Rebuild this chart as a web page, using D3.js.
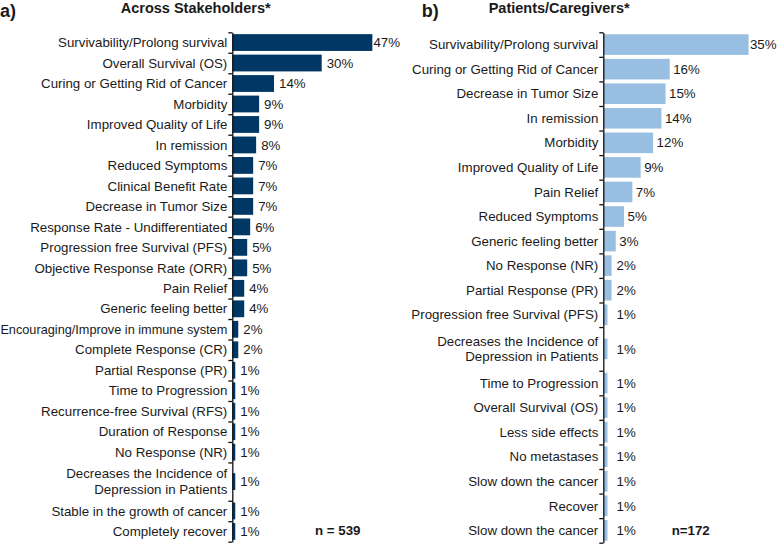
<!DOCTYPE html>
<html>
<head>
<meta charset="utf-8">
<script src="https://cdn.jsdelivr.net/npm/d3@7"></script>
<style>
  html, body { margin: 0; padding: 0; background: #fff; }
  svg { display: block; }
  text { font-family: "Liberation Sans", Arial, sans-serif; fill: #1a1a1a; }
</style>
</head>
<body>
<svg id="chart" width="777" height="544"></svg>
<script>
// ---------- DATA ----------
const leftCategories = [
  "Survivability/Prolong survival",
  "Overall Survival (OS)",
  "Curing or Getting Rid of Cancer",
  "Morbidity",
  "Improved Quality of Life",
  "In remission",
  "Reduced Symptoms",
  "Clinical Benefit Rate",
  "Decrease in Tumor Size",
  "Response Rate - Undifferentiated",
  "Progression free Survival (PFS)",
  "Objective Response Rate (ORR)",
  "Pain Relief",
  "Generic feeling better",
  "Encouraging/Improve in immune system",
  "Complete Response (CR)",
  "Partial Response (PR)",
  "Time to Progression",
  "Recurrence-free Survival (RFS)",
  "Duration of Response",
  "No Response (NR)",
  "Decreases the Incidence of\nDepression in Patients",
  "Stable in the growth of cancer",
  "Completely recover"
];
const leftValues = [47, 30, 14, 9, 9, 8, 7, 7, 7, 6, 5, 5, 4, 4, 2, 2, 1, 1, 1, 1, 1, 1, 1, 1];

const rightCategories = [
  "Survivability/Prolong survival",
  "Curing or Getting Rid of Cancer",
  "Decrease in Tumor Size",
  "In remission",
  "Morbidity",
  "Improved Quality of Life",
  "Pain Relief",
  "Reduced Symptoms",
  "Generic feeling better",
  "No Response (NR)",
  "Partial Response (PR)",
  "Progression free Survival (PFS)",
  "Decreases the Incidence of\nDepression in Patients",
  "Time to Progression",
  "Overall Survival (OS)",
  "Less side effects",
  "No metastases",
  "Slow down the cancer",
  "Recover",
  "Slow down the cancer"
];
const rightValues = [35, 16, 15, 14, 12, 9, 7, 5, 3, 2, 2, 1, 1, 1, 1, 1, 1, 1, 1, 1];

const panelTags = ["a)", "b)"];
const panelTitles = ["Across Stakeholders*", "Patients/Caregivers*"];
const sampleSizes = ["n = 539", "n=172"];

// ---------- DRAW ----------
const W = 777;
const svg = d3.select("#chart");

function drawPanel(cfg) {
  const g = svg.append("g");
  const weights = cfg.cats.map(c => c.includes("\n") ? cfg.tallWeight : 1);
  const cum = Array.from(d3.cumsum(weights));
  const starts = [0].concat(cum.slice(0, -1));
  const total = d3.sum(weights);

  const y = d3.scaleLinear().domain([0, total]).range([cfg.yTop, cfg.yBottom]);
  const x = d3.scaleLinear().domain([0, cfg.xMax]).range([cfg.axisX, cfg.axisX + cfg.xMax * cfg.pxPer]);
  const unit = y(1) - y(0);
  const bh = cfg.barFrac * unit;

  const rows = cfg.cats.map((c, i) => ({
    cat: c, v: cfg.vals[i], mid: starts[i] + weights[i] / 2
  }));

  // bars
  g.selectAll("rect.bar").data(rows).join("rect")
    .attr("class", "bar")
    .attr("x", x(0))
    .attr("y", d => y(d.mid) - bh / 2)
    .attr("width", d => x(d.v) - x(0))
    .attr("height", bh)
    .attr("fill", cfg.color);

  // axis
  const ax = g.append("g")
    .attr("transform", `translate(${cfg.axisX},0)`)
    .call(d3.axisLeft(y).tickValues([0].concat(cum)).tickSize(4).tickSizeOuter(0).tickFormat(""));
  ax.selectAll("path, line").attr("stroke", "#111").attr("stroke-width", 1.3);

  // category labels
  const labelRight = cfg.axisX - 5;
  const lab = g.selectAll("text.cat").data(rows).join("text")
    .attr("class", "cat")
    .attr("text-anchor", "end")
    .attr("font-size", "13.3px")
    .attr("x", labelRight)
    .attr("y", d => y(d.mid));
  lab.each(function(d) {
    const lines = d.cat.split("\n");
    const t = d3.select(this);
    lines.forEach((ln, k) => {
      t.append("tspan")
        .attr("x", labelRight)
        .attr("dy", k === 0 ? (0.35 - (lines.length - 1) * 0.59) + "em" : "1.18em")
        .text(ln);
    });
    // shrink a label that would run past the left edge
    const avail = labelRight - cfg.leftEdge;
    const w = this.getBBox().width;
    if (w > avail) t.attr("font-size", (13.3 * avail / w).toFixed(2) + "px");
  });

  // value labels
  g.selectAll("text.val").data(rows).join("text")
    .attr("class", "val")
    .attr("font-size", "13.3px")
    .attr("y", d => y(d.mid))
    .attr("dy", "0.35em")
    .text(d => d.v + "%")
    .each(function(d) {
      const w = this.getComputedTextLength();
      let px = Math.max(x(d.v) + cfg.gap, cfg.minLabelX);
      px = Math.min(px, cfg.rightEdge - w);
      d3.select(this).attr("x", px);
    });

  // tag, title, n
  g.append("text").attr("x", cfg.tagX).attr("y", 16.5)
    .attr("font-size", "18px").attr("font-weight", "bold").text(cfg.tag);
  g.append("text").attr("x", cfg.titleX).attr("y", 13)
    .attr("text-anchor", "middle").attr("font-size", "14.5px").attr("font-weight", "bold").text(cfg.title);
  g.append("text").attr("x", cfg.nX).attr("y", 535)
    .attr("font-size", "13.3px").attr("font-weight", "bold").text(cfg.n);
}

drawPanel({
  cats: leftCategories, vals: leftValues,
  axisX: 232.3, pxPer: 2.98, xMax: 50,
  yTop: 32.3, yBottom: 541.7, tallWeight: 1.87, barFrac: 0.82,
  color: "#003764", gap: 5, minLabelX: 0, leftEdge: 0.5, rightEdge: 400,
  tag: panelTags[0], tagX: 0, title: panelTitles[0], titleX: 195.7,
  n: sampleSizes[0], nX: 315
});

drawPanel({
  cats: rightCategories, vals: rightValues,
  axisX: 603.3, pxPer: 4.15, xMax: 35,
  yTop: 32.3, yBottom: 542.7, tallWeight: 1.78, barFrac: 0.84,
  color: "#98bfe1", gap: 3.5, minLabelX: 616.5, leftEdge: 400, rightEdge: W - 0.5,
  tag: panelTags[1], tagX: 421.7, title: panelTitles[1], titleX: 559.2,
  n: sampleSizes[1], nX: 671.7
});
</script>
</body>
</html>
